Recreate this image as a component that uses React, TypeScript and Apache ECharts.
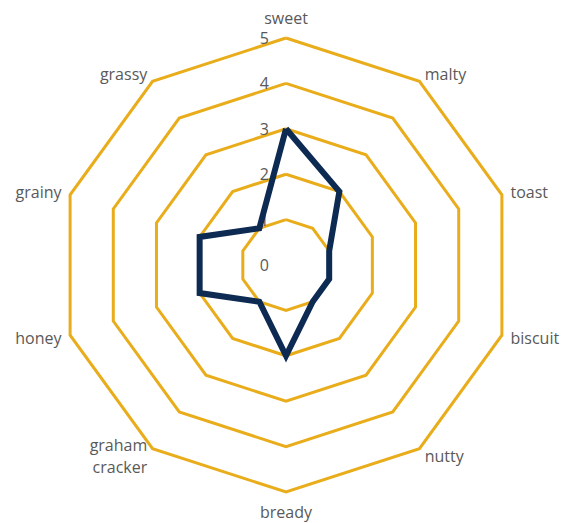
import React, { useEffect, useRef } from "react";
import * as echarts from "echarts";

const indicatorNames = [
  "sweet",
  "malty",
  "toast",
  "biscuit",
  "nutty",
  "bready",
  "graham\ncracker",
  "honey",
  "grainy",
  "grassy",
];
const flavorValues = [3, 2, 1, 1, 1, 2, 1, 2, 2, 1];
const axisMax = 5;
const tickLabels = [0, 1, 2, 3, 4, 5];

const GOLD = "#E9AD1B";
const NAVY = "#0C2A52";
const TEXT = "#595959";
const FONT = "'Open Sans', 'Noto Sans', sans-serif";

// ECharts lays radar axes counter-clockwise; reverse (keeping the first) to go clockwise.
const clockwise = <T,>(arr: T[]): T[] => [arr[0], ...arr.slice(1).reverse()];

export default function App() {
  const ref = useRef<HTMLDivElement>(null);
  useEffect(() => {
    if (!ref.current) return;
    const chart = echarts.init(ref.current, null, { renderer: "svg" });
    const cx = 286;
    const cy = 265;
    const r = 227;
    chart.setOption({
      animation: false,
      backgroundColor: "#ffffff",
      radar: {
        center: [cx, cy],
        radius: r,
        startAngle: 90,
        splitNumber: 5,
        shape: "polygon",
        indicator: clockwise(indicatorNames).map((n) => ({ name: n, min: 0, max: axisMax })),
        nameGap: 9,
        axisName: {
          color: TEXT,
          fontSize: 16,
          fontFamily: FONT,
          lineHeight: 22,
        },
        axisLine: { show: false },
        axisTick: { show: false },
        axisLabel: { show: false },
        splitArea: { show: false },
        splitLine: { lineStyle: { color: GOLD, width: 3 } },
      },
      grid: {
        left: cx,
        top: cy - r,
        width: 1,
        height: r,
        containLabel: false,
      },
      xAxis: { type: "value", show: false },
      yAxis: {
        type: "value",
        min: 0,
        max: axisMax,
        interval: 1,
        axisLine: { show: false },
        axisTick: { show: false },
        splitLine: { show: false },
        axisLabel: {
          color: TEXT,
          fontSize: 16,
          fontFamily: FONT,
          margin: 17,
          formatter: (v: number) => (tickLabels.includes(v) ? String(v) : ""),
        },
      },
      series: [
        {
          type: "radar",
          symbol: "none",
          lineStyle: { color: NAVY, width: 6, join: "miter" },
          itemStyle: { color: NAVY },
          data: [{ value: clockwise(flavorValues), name: "flavor" }],
        },
      ],
    });
    return () => chart.dispose();
  }, []);
  return (
    <div
      ref={ref}
      style={{ position: "absolute", left: 0, top: 0, width: 564, height: 523 }}
    />
  );
}
